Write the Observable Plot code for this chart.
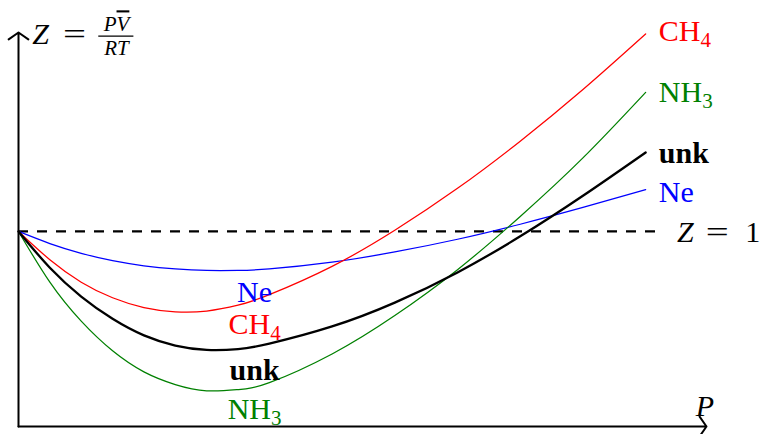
<!DOCTYPE html>
<html><head><meta charset="utf-8">
<script src="https://cdn.jsdelivr.net/npm/d3@7"></script>
<script src="https://cdn.jsdelivr.net/npm/@observablehq/plot@0.6"></script>
<style>body{margin:0;background:#fff}</style>
</head><body><div id="chart"></div>
<script>
// Pressure grid (arbitrary units) and compressibility factor Z for each gas
const P     = [0, 0.5, 1, 1.5, 2, 2.5, 3, 3.5, 4, 5, 6, 7, 8, 9, 10];
const zNe   = [1.000, 0.938, 0.888, 0.850, 0.824, 0.808, 0.800, 0.800, 0.808, 0.843, 0.895, 0.960, 1.037, 1.123, 1.214];
const zCH4  = [1.000, 0.855, 0.740, 0.660, 0.610, 0.588, 0.592, 0.622, 0.676, 0.821, 1.006, 1.221, 1.463, 1.728, 2.013];
const zNH3  = [1.000, 0.740, 0.540, 0.388, 0.280, 0.215, 0.183, 0.189, 0.225, 0.372, 0.569, 0.804, 1.077, 1.377, 1.713];
const zUnk  = [1.000, 0.814, 0.666, 0.552, 0.467, 0.415, 0.393, 0.397, 0.425, 0.513, 0.635, 0.790, 0.975, 1.183, 1.405];

const gases  = ["Ne", "CH4", "NH3", "unk"];
const gasZ   = {Ne: zNe, CH4: zCH4, NH3: zNH3, unk: zUnk};
const gasTex = {Ne: "Ne", CH4: "CH_4", NH3: "NH_3", unk: "unk"};
const gasColor = {Ne: "#0000ff", CH4: "#ff0000", NH3: "#008000", unk: "#000000"};

// label anchor values (Z at text baseline)
const endLabelGas = ["CH4", "NH3", "unk", "Ne"];
const endLabelZ   = [1.976, 1.663, 1.350, 1.150];
const lowLabelGas = ["Ne", "CH4", "unk", "NH3"];
const lowLabelZ   = [0.637, 0.475, 0.236, 0.039];

const rows = gases.flatMap(g => P.map((p, i) => ({gas: g, P: p, Z: gasZ[g][i]})));

const FONT = "Liberation Serif";
const xMax = 10.97, yMax = 2.02;

const marks = [
  Plot.ruleY([1], {x1: 0, x2: 10.29, stroke: "#000", strokeWidth: 2.2, strokeDasharray: "10,9"}),
  ...gases.map(g => Plot.line(rows.filter(r => r.gas === g), {
    x: "P", y: "Z", curve: "natural",
    stroke: gasColor[g], strokeWidth: g === "unk" ? 2.3 : 1.25
  })),
  Plot.arrow([0], {x1: 0, y1: 0, x2: xMax, y2: 0, stroke: "#000", strokeWidth: 2, headAngle: 110, headLength: 9}),
  Plot.arrow([0], {x1: 0, y1: 0, x2: 0, y2: yMax, stroke: "#000", strokeWidth: 2, headAngle: 110, headLength: 9}),
  ...endLabelGas.map((g, i) => Plot.text([gasTex[g]], {
    x: 10.21, y: endLabelZ[i], text: d => d, textAnchor: "start", lineAnchor: "bottom",
    fill: gasColor[g], fontSize: 30, fontWeight: g === "unk" ? "bold" : "normal"
  })),
  ...lowLabelGas.map((g, i) => Plot.text([gasTex[g]], {
    x: 3.764, y: lowLabelZ[i], text: d => d, textAnchor: "middle", lineAnchor: "bottom",
    fill: gasColor[g], fontSize: 30, fontWeight: g === "unk" ? "bold" : "normal"
  })),
  // Z = 1 label
  Plot.text(["*Z*"], {x: 10.50, y: 0.945, text: d => d, textAnchor: "start", lineAnchor: "bottom", fontSize: 30}),
  Plot.text(["="], {x: 11.14, y: 0.945, text: d => d, textAnchor: "middle", lineAnchor: "bottom", fontSize: 30}),
  Plot.text(["1"], {x: 11.707, y: 0.945, text: d => d, textAnchor: "middle", lineAnchor: "bottom", fontSize: 30}),
  // P axis label
  Plot.text(["*P*"], {x: 10.797, y: 0.056, text: d => d, textAnchor: "start", lineAnchor: "bottom", fontSize: 30}),
  // Z = PV/RT axis label
  Plot.text(["*Z*"], {x: 0.22, y: 1.959, text: d => d, textAnchor: "start", lineAnchor: "bottom", fontSize: 30}),
  Plot.text(["="], {x: 0.893, y: 1.959, text: d => d, textAnchor: "middle", lineAnchor: "bottom", fontSize: 30}),
  Plot.text(["*P^V*"], {x: 1.563, y: 2.026, text: d => d, textAnchor: "middle", lineAnchor: "bottom", fontSize: 21}),
  Plot.text(["*RT*"], {x: 1.563, y: 1.903, text: d => d, textAnchor: "middle", lineAnchor: "bottom", fontSize: 21}),
  Plot.ruleY([2.0015], {x1: 1.28, x2: 1.84, stroke: "#000", strokeWidth: 1.2})
];

const chart = Plot.plot({
  width: 760, height: 434,
  marginLeft: 18, marginRight: 54, marginTop: 32, marginBottom: 8,
  x: {domain: [0, xMax], axis: null},
  y: {domain: [0, yMax], axis: null},
  style: {fontFamily: FONT, background: "#fff", overflow: "visible"},
  marks
});

// tiny markup: *..* italic, _c subscript, ^c overline; wide "=" like TeX
const svgns = "http://www.w3.org/2000/svg";
chart.querySelectorAll("text").forEach(t => {
  const s = t.textContent;
  if (s === "=") {
    t.setAttribute("textLength", "23");
    t.setAttribute("lengthAdjust", "spacingAndGlyphs");
    return;
  }
  if (!/[*_^]/.test(s)) return;
  t.textContent = "";
  let italic = false;
  for (let i = 0; i < s.length; i++) {
    let c = s[i];
    if (c === "*") { italic = !italic; continue; }
    const ts = document.createElementNS(svgns, "tspan");
    if (c === "_") {
      c = s[++i];
      ts.setAttribute("font-size", "0.7em");
      ts.setAttribute("dy", "0.3em");
    } else if (c === "^") {
      c = s[++i];
      ts.style.textDecoration = "overline";
    }
    if (italic) ts.setAttribute("font-style", "italic");
    ts.textContent = c;
    t.appendChild(ts);
  }
});

document.getElementById("chart").appendChild(chart);
</script>
</body></html>
